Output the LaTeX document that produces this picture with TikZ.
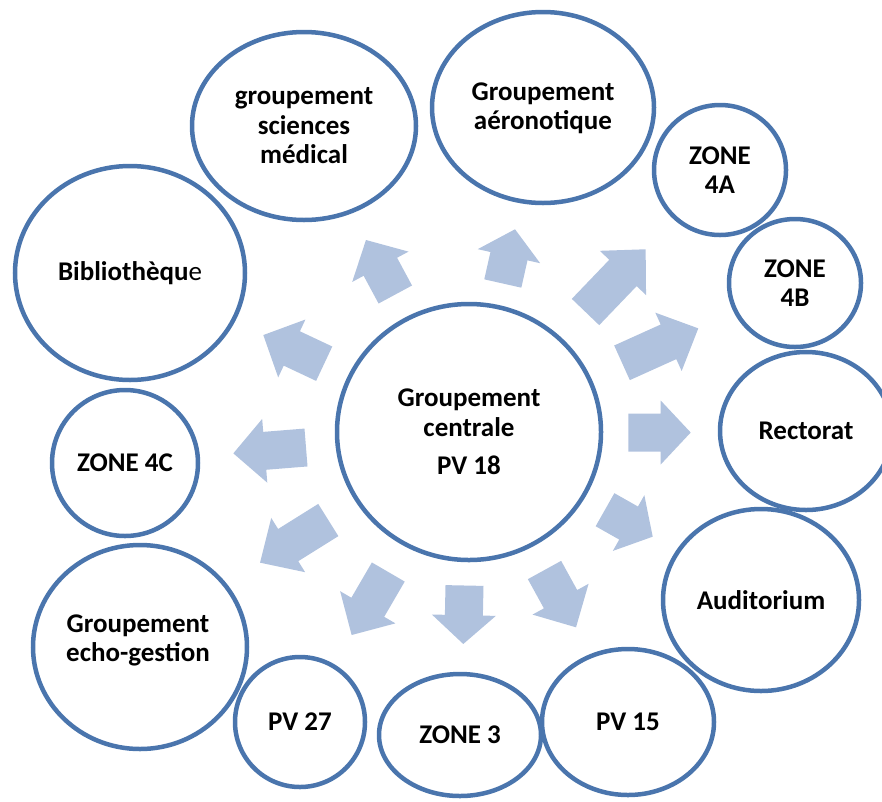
\documentclass[tikz,border=0pt]{standalone}
\usepackage{fontspec}
\setmainfont{Carlito}
\usetikzlibrary{shapes.geometric}
\definecolor{ringblue}{RGB}{74,117,173}
\definecolor{arrowblue}{RGB}{176,194,222}
% block arrow: tail x, tail y, angle, length, head length
\newcommand\blockarrow[5]{%
  \begin{scope}[shift={(#1,#2)},rotate=#3]
    \fill[arrowblue] (0,-19) -- ({#4-#5},-19) -- ({#4-#5},-32) -- (#4,0)
      -- ({#4-#5},32) -- ({#4-#5},19) -- (0,19) -- cycle;
  \end{scope}}
\tikzset{
  bubble/.style={ellipse, draw=ringblue, line width=4.5pt, inner sep=0pt,
    align=center, fill=white, font=\fontsize{27}{29.5}\selectfont\bfseries},
  label text/.style={align=center, inner sep=0pt, font=\fontsize{27}{29.5}\selectfont\bfseries}
}
\begin{document}
\begin{tikzpicture}[x=1pt,y=-1pt]
\useasboundingbox (0,0) rectangle (882,801);
% arrows
\blockarrow{395.3}{294.5}{118.3}{61.9}{30.4}
\blockarrow{324.2}{363.7}{154.8}{67.3}{31.5}
\blockarrow{502.8}{283.5}{77.3}{55.6}{27.6}
\blockarrow{585.5}{312}{46.2}{86.9}{32.8}
\blockarrow{622}{362.8}{24.3}{83.7}{32.7}
\blockarrow{306}{447.5}{184.6}{72.9}{31.5}
\blockarrow{328.3}{520}{212}{80.5}{33.2}
\blockarrow{388.3}{572}{239.8}{72.9}{32.1}
\blockarrow{464.5}{585.5}{268.8}{58.5}{28.8}
\blockarrow{628.3}{432.5}{0}{62.4}{30}
\blockarrow{605}{509.7}{-29.5}{54.8}{27.7}
\blockarrow{544.5}{570}{-61.2}{65.4}{32.1}
% bubbles
\node[bubble, minimum width=264pt, minimum height=256pt] (central) at (469,432) {Groupement\\centrale\\[9pt]PV 18};
\node[bubble, minimum width=230pt, minimum height=214pt] (biblio) at (130,273) {Biblioth\`equ{\mdseries e}};
\node[bubble, minimum width=224pt, minimum height=188pt] (sciences) at (304,126) {groupement\\sciences\\m\'edical};
\node[bubble, minimum width=222pt, minimum height=191pt] (aero) at (543,107.5) {};
\node[label text] (aerotext) at (543,108.5) {Groupement\\a\'eronotique};
\node[bubble, minimum width=132pt, minimum height=130pt] (z4a) at (720,170) {ZONE\\4A};
\node[bubble, minimum width=132pt, minimum height=128pt] (z4b) at (795,283) {ZONE\\4B};
\node[bubble, minimum width=172pt, minimum height=158pt] (rectorat) at (806,431) {Rectorat};
\node[bubble, minimum width=196pt, minimum height=182pt] (audit) at (761,600) {Auditorium};
\node[bubble, minimum width=172pt, minimum height=146pt] (pv15) at (628,722) {PV 15};
\node[bubble, minimum width=162pt, minimum height=122pt] (zone3) at (460,735) {ZONE 3};
\node[bubble, minimum width=130pt, minimum height=130pt] (pv27) at (300,722) {PV 27};
\node[bubble, minimum width=146pt, minimum height=146pt] (z4c) at (125,463) {ZONE 4C};
\node[bubble, minimum width=214pt, minimum height=204pt] (echo) at (140,647) {};
\node[label text] (echotext) at (138,640.5) {Groupement\\echo-gestion};
\end{tikzpicture}
\end{document}
